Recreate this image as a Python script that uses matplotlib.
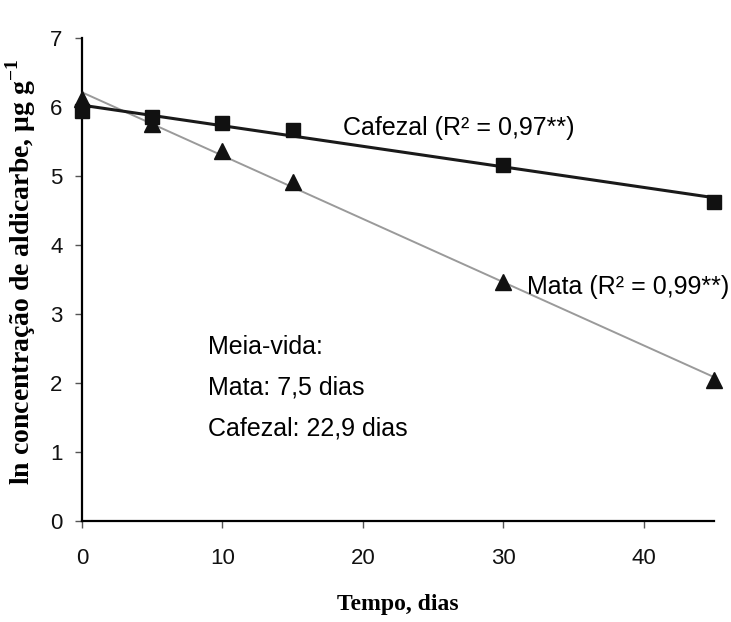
import numpy as np
import matplotlib
matplotlib.use("Agg")
import matplotlib.pyplot as plt

# dados
dias = [0, 5, 10, 15, 30, 45]
cafezal = [5.94, 5.86, 5.77, 5.67, 5.16, 4.63]
mata = [6.12, 5.75, 5.36, 4.91, 3.46, 2.05]

rotulo_cafezal = "Cafezal (R² = 0,97**)"
rotulo_mata = "Mata (R² = 0,99**)"
meia_vida = ["Meia-vida:", "Mata: 7,5 dias", "Cafezal: 22,9 dias"]

plt.rcParams["mathtext.fontset"] = "custom"
plt.rcParams["mathtext.rm"] = "Liberation Serif:bold"
plt.rcParams["mathtext.bf"] = "Liberation Serif:bold"

fig = plt.figure(figsize=(7.31, 6.22), dpi=100)
ax = fig.add_axes([0.112, 0.162, 0.865, 0.777])

# retas de regressão
xr = np.array([0, 45])
a_c, b_c = np.polyfit(dias, cafezal, 1)
a_m, b_m = np.polyfit(dias, mata, 1)
ax.plot(xr, a_m * xr + b_m, color="#9a9a9a", lw=1.4, zorder=2)
ax.plot(xr, a_c * xr + b_c, color="#1a1a1a", lw=2.2, zorder=2)

ax.plot(dias, cafezal, "s", color="#111111", ms=10, zorder=3, clip_on=False)
ax.plot(dias, mata, "^", color="#111111", ms=11, zorder=3, clip_on=False)

sans = "Liberation Sans"
ax.text(18.6, 5.69, rotulo_cafezal, fontsize=18, family=sans, va="center")
ax.text(31.7, 3.39, rotulo_mata, fontsize=18, family=sans, va="center")
for i, t in enumerate(meia_vida):
    ax.text(9.0, 2.53 - 0.59 * i, t, fontsize=18, family=sans, va="center")

ax.set_xlim(0, 45)
ax.set_ylim(0, 7)
ax.set_xticks([0, 10, 20, 30, 40])
ax.set_yticks(range(8))
for lab in ax.get_xticklabels() + ax.get_yticklabels():
    lab.set_family(sans)
    lab.set_fontsize(16)
ax.tick_params(direction="out", length=5, width=1, colors="#555555", labelcolor="#111111")
ax.tick_params(axis="x", pad=14)
ax.tick_params(axis="y", pad=9)
ax.spines["top"].set_visible(False)
ax.spines["right"].set_visible(False)
ax.spines["left"].set_linewidth(1.6)
ax.spines["bottom"].set_linewidth(1.6)

ax.set_xlabel("Tempo, dias", family="Liberation Serif", fontweight="bold", fontsize=17, labelpad=18)
ax.set_ylabel("ln concentração de aldicarbe, μg g$^{-1}$", family="Liberation Serif",
              fontweight="bold", fontsize=20)
ax.yaxis.set_label_coords(-0.07, 0.515)

fig.savefig("out.png", dpi=100)
